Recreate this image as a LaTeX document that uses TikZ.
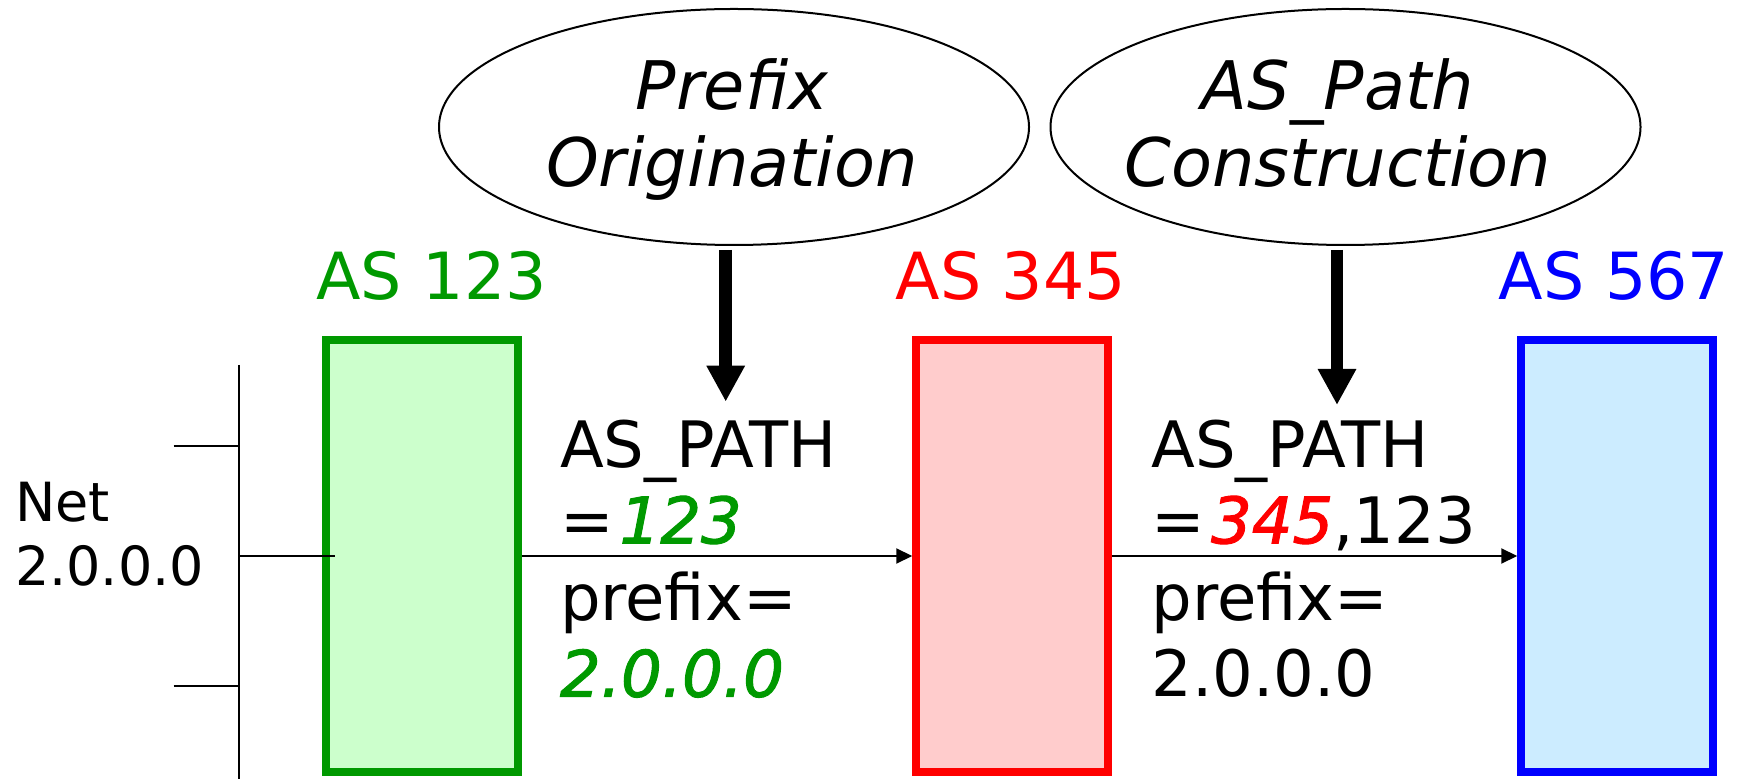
\documentclass[tikz,border=0pt]{standalone}
\usepackage{fontspec}
\setmainfont{DejaVu Sans}
\newfontfamily\hotfont[FakeBold=1.6]{DejaVu Sans}
\usetikzlibrary{arrows.meta,shapes.geometric}
\definecolor{asgreen}{HTML}{009900}
\definecolor{asred}{HTML}{FF0000}
\definecolor{asblue}{HTML}{0000FF}
\definecolor{fillgreen}{HTML}{CCFFCC}
\definecolor{fillred}{HTML}{FFCCCC}
\definecolor{fillblue}{HTML}{CCECFF}
\newcommand{\hot}[2]{\textcolor{#1}{\hotfont\itshape #2}}
\tikzstyle{asbox}=[draw,rectangle,line width=3.75pt,minimum width=96pt,minimum height=215.75pt,inner sep=0pt]
\tikzstyle{aslabel}=[anchor=base,inner sep=0pt,font=\fontsize{32.5}{39}\selectfont]
\tikzstyle{msg}=[anchor=base west,inner sep=0pt,font=\fontsize{32}{38}\selectfont]
\tikzstyle{netlabel}=[anchor=base west,inner sep=0pt,font=\fontsize{27}{32}\selectfont]
\tikzstyle{task}=[draw,ellipse,line width=1pt,minimum width=295pt,minimum height=118pt,inner sep=0pt]
\tikzstyle{tasktext}=[anchor=base,inner sep=0pt,font=\itshape\fontsize{33.5}{38}\selectfont]
\tikzstyle{update}=[line width=1pt,-{Triangle[length=8pt,width=7.5pt]}]
\tikzstyle{inject}=[line width=6.25pt,-{Triangle[length=18pt,width=18pt]}]

\begin{document}
\begin{tikzpicture}[x=0.5pt,y=-0.5pt,line width=1pt]
	\useasboundingbox (0,0) rectangle (1748,779);
	\node [task] (orig) at (734,127) {};
	\node [task] (cons) at (1345.5,127) {};
	\node [tasktext] (orig1) at (732,110) {Prefix};
	\node [tasktext] (orig2) at (732,186.7) {Origination};
	\node [tasktext] (cons1) at (1338,110) {AS\_Path};
	\node [tasktext] (cons2) at (1338,186.7) {Construction};

	\node [aslabel,text=asgreen] (lab123) at (431.7,300) {AS 123};
	\node [aslabel,text=asred] (lab345) at (1010.8,300) {AS 345};
	\node [aslabel,text=asblue] (lab567) at (1614,300) {AS 567};

	\node [asbox,draw=asgreen,fill=fillgreen] (as123) at (422,556) {};
	\node [asbox,draw=asred,fill=fillred] (as345) at (1012,556) {};
	\node [asbox,draw=asblue,fill=fillblue] (as567) at (1617,556) {};

	\coordinate (bustop) at (238.6,365);
	\coordinate (busbot) at (238.6,779);
	\coordinate (tick1) at (173.6,445.7);
	\coordinate (tick2) at (173.6,686);
	\draw (bustop) -- (busbot);
	\draw (tick1) -- (tick1 -| bustop);
	\draw (tick2) -- (tick2 -| bustop);
	\draw (bustop |- as123) -- ([xshift=6.5pt]as123.west);
	\node [netlabel] (net1) at (14,521.7) {Net};
	\node [netlabel] (net2) at (14,585) {2.0.0.0};

	\draw [update] (as123) -- (as345);
	\draw [update] (as345) -- (as567);

	\coordinate (hit1) at (725.7,401.7);
	\coordinate (hit2) at (1337,405);
	\draw [inject] ([yshift=-2pt]hit1 |- orig.south) -- (hit1);
	\draw [inject] ([yshift=-2pt]hit2 |- cons.south) -- (hit2);

	\node [msg] (path1) at (559,467.3) {AS\_PATH};
	\node [msg] (seq1) at (559,543.3) {=\kern3pt\hot{asgreen}{123}};
	\node [msg] (pre1) at (559,620) {prefix=};
	\node [msg] (net3) at (559,696.7) {\hot{asgreen}{2.0.0.0}};

	\node [msg] (path2) at (1150.5,467.3) {AS\_PATH};
	\node [msg] (seq2) at (1150.5,543.3) {=\kern3pt\hot{asred}{345},123};
	\node [msg] (pre2) at (1150.5,620) {prefix=};
	\node [msg] (net4) at (1150.5,696.7) {2.0.0.0};
\end{tikzpicture}
\end{document}
